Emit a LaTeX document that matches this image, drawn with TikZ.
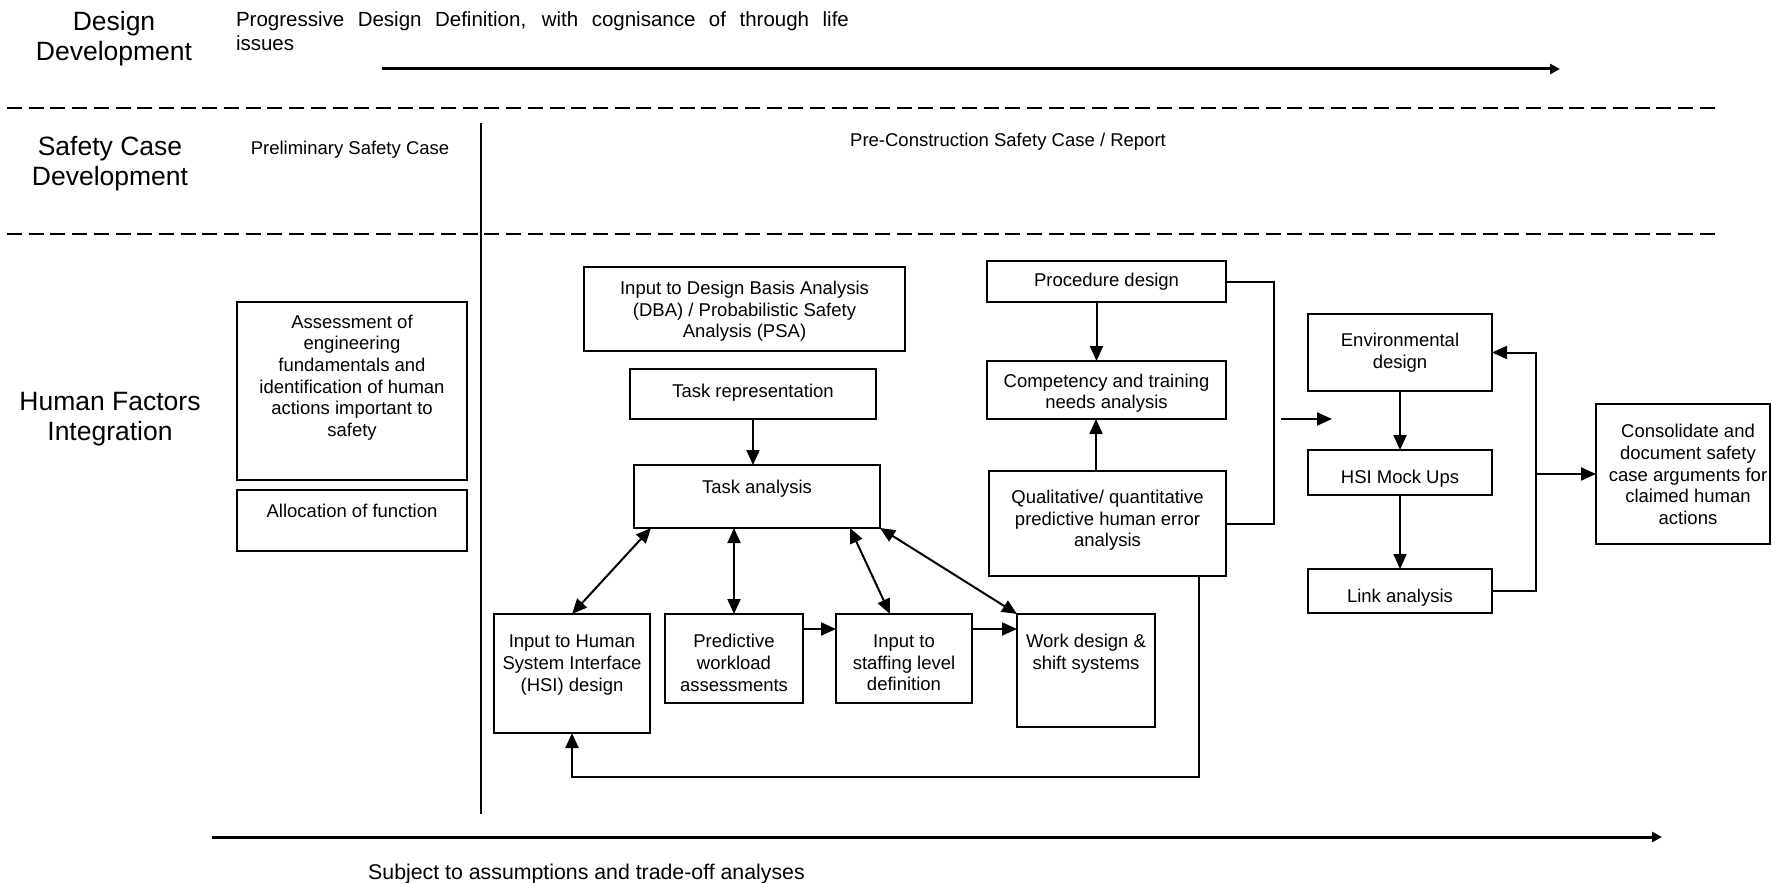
\documentclass[tikz,border=0pt]{standalone}
\usepackage{fontspec}
\setmainfont{Liberation Sans}
\usetikzlibrary{arrows.meta,calc}
\begin{document}
\begin{tikzpicture}[x=1pt,y=-1pt,
  every node/.style={inner sep=0pt, outer sep=0pt},
  sm/.style={font=\fontsize{18.5}{21.7}\selectfont, align=center},
  big/.style={font=\fontsize{26.5}{30}\selectfont, align=center},
  box/.style={draw, line width=2pt},
  conn/.style={line width=2pt},
  arr/.style={line width=2pt, -{Triangle[length=15pt,width=13pt]}},
  darr/.style={line width=2pt, {Triangle[length=15pt,width=13pt]}-{Triangle[length=15pt,width=13pt]}},
  bigarr/.style={line width=3pt, -{Triangle[length=10pt,width=10pt]}},
  divider/.style={line width=2.7pt, dash pattern=on 15pt off 6.7pt},
]
\useasboundingbox (0,0) rectangle (1772,883);

% ---- header rows ----
\node[big] (ddev) at (114,38.5) {Design\\Development};
\node[font=\fontsize{20.5}{23.5}\selectfont, text width=613pt, align=justify, anchor=north west] (pdd) at (236,12)
  {Progressive Design Definition, with cognisance of through life\linebreak issues};
\coordinate (ha1) at (382,69);
\coordinate (ha2) at (1560,69);
\draw[bigarr] (ha1) -- (ha2);

\coordinate (dla) at (7,108);
\coordinate (dlb) at (1718,108);
\draw[divider] (dla) -- (dlb);

\node[big] (scd) at (110,164) {Safety Case\\Development};
\node[sm] (psc) at (350,150) {Preliminary Safety Case};
\node[sm] (pcsc) at (1008,142) {Pre-Construction Safety Case / Report};

\coordinate (dlc) at (7,234);
\coordinate (dld) at (1718,234);
\draw[divider] (dlc) -- (dld);

\coordinate (vla) at (481,123);
\coordinate (vlb) at (481,814);
\draw[line width=2.5pt] (vla) -- (vlb);

\node[big] (hfi) at (110,419) {Human Factors\\Integration};

% ---- left column ----
\node[box, minimum width=230pt, minimum height=178pt] (assess) at (352,391) {};
\node[sm] (assesst) at (352,377.5) {Assessment of\\engineering\\fundamentals and\\identification of human\\actions important to\\safety};
\node[box, minimum width=230pt, minimum height=61pt] (alloc) at (352,520.5) {};
\node[sm] (alloct) at (352,510.5) {Allocation of function};

% ---- task analysis cluster ----
\node[box, minimum width=321pt, minimum height=84pt] (dba) at (744.5,309) {};
\node[sm] (dbat) at (744.5,311.5) {Input to Design Basis Analysis\\(DBA) / Probabilistic Safety\\Analysis (PSA)};
\node[box, minimum width=246pt, minimum height=50pt] (taskrep) at (753,394) {};
\node[sm] (taskrept) at (753,392.5) {Task representation};
\node[box, minimum width=246pt, minimum height=63pt] (taskan) at (757,496.5) {};
\node[sm] (taskant) at (757,489) {Task analysis};

\node[box, minimum width=156pt, minimum height=119pt] (hsi) at (572,673.5) {};
\node[sm] (hsit) at (572,665) {Input to Human\\System Interface\\(HSI) design};
\node[box, minimum width=138pt, minimum height=89pt] (pred) at (734,658.5) {};
\node[sm] (predt) at (734,663) {Predictive\\workload\\assessments};
\node[box, minimum width=136pt, minimum height=89pt] (staff) at (904,658.5) {};
\node[sm] (stafft) at (904,663) {Input to\\staffing level\\definition};
\node[box, minimum width=138pt, minimum height=113pt] (work) at (1086,670.5) {};
\node[sm] (workt) at (1086,654) {Work design \&\\shift systems};

% ---- procedure cluster ----
\node[box, minimum width=239pt, minimum height=41pt] (proc) at (1106.5,281.5) {};
\node[sm] (proct) at (1106.5,282) {Procedure design};
\node[box, minimum width=239pt, minimum height=58pt] (comp) at (1106.5,390) {};
\node[sm] (compt) at (1106.5,393.3) {Competency and training\\needs analysis};
\node[box, minimum width=237pt, minimum height=105pt] (qphea) at (1107.5,523.5) {};
\node[sm] (qpheat) at (1107.5,520.5) {Qualitative/ quantitative\\predictive human error\\analysis};

% ---- environment cluster ----
\node[box, minimum width=184pt, minimum height=77pt] (env) at (1400,352.5) {};
\node[sm] (envt) at (1400,353) {Environmental\\design};
\node[box, minimum width=184pt, minimum height=45pt] (mock) at (1400,472.5) {};
\node[sm] (mockt) at (1400,479) {HSI Mock Ups};
\node[box, minimum width=184pt, minimum height=44pt] (link) at (1400,591) {};
\node[sm] (linkt) at (1400,597.5) {Link analysis};
\node[box, minimum width=174pt, minimum height=140pt] (cons) at (1683,474) {};
\node[sm] (const) at (1688,474.5) {Consolidate and\\document safety\\case arguments for\\claimed human\\actions};

% ---- connectors ----
\draw[arr] (taskrep.south) -- (taskrep.south |- taskan.north);
\draw[darr] (hsi.north) -- ([xshift=17pt]taskan.south west);
\draw[darr] (pred.north) -- (pred.north |- taskan.south);
\draw[darr] ([xshift=-14pt]staff.north) -- ([xshift=-30pt]taskan.south east);
\draw[darr] (work.north west) -- (taskan.south east);
\draw[arr] ([yshift=-15pt]pred.north east) -- ([yshift=-15pt]staff.north west);
\draw[arr] ([yshift=-15pt]staff.north east) -- ([yshift=-15pt]work.north west);
\draw[arr] ([xshift=-27pt]qphea.south east) |- ($(hsi.south)+(0,44)$) -- (hsi.south);

\draw[arr] ([xshift=-10pt]proc.south) -- ([xshift=-10pt]comp.north);
\draw[arr] ([xshift=-11.5pt]qphea.north) -- ([xshift=-11.5pt]qphea.north |- comp.south);
\draw[conn] (proc.east) -- ++(48,0) |- (qphea.east);
\coordinate (fa1) at (1281,419);
\coordinate (fa2) at (1332,419);
\draw[arr] (fa1) -- (fa2);

\draw[arr] (env.south) -- (mock.north);
\draw[arr] (mock.south) -- (link.north);
\coordinate (jn) at ($(link.east)+(44,0)$);
\draw[arr] (link.east) -- (jn) |- (env.east);
\draw[arr] (jn |- cons.west) -- (cons.west);

% ---- bottom ----
\coordinate (ba1) at (212,837);
\coordinate (ba2) at (1662,837);
\draw[bigarr] (ba1) -- (ba2);
\node[font=\fontsize{21.3}{25}\selectfont] (sub) at (586.5,874) {Subject to assumptions and trade-off analyses};
\end{tikzpicture}
\end{document}
